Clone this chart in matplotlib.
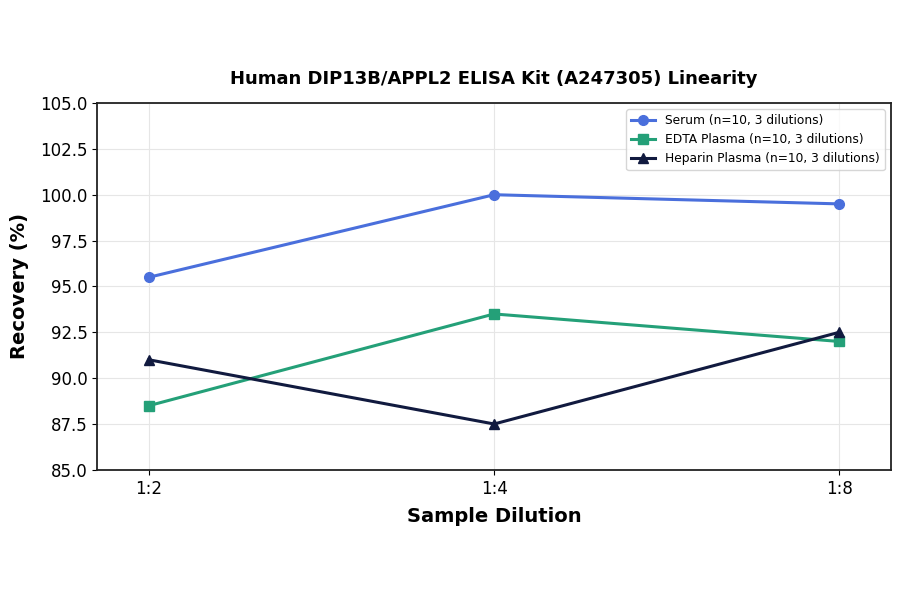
import matplotlib
matplotlib.use("Agg")
import matplotlib.pyplot as plt

dilutions = ["1:2", "1:4", "1:8"]
serum = [95.5, 100.0, 99.5]
edta = [88.5, 93.5, 92.0]
heparin = [91.0, 87.5, 92.5]
labels = ["Serum (n=10, 3 dilutions)", "EDTA Plasma (n=10, 3 dilutions)", "Heparin Plasma (n=10, 3 dilutions)"]
colors = ["#4a6fdc", "#24a078", "#111a3f"]
markers = ["o", "s", "^"]

fig = plt.figure(figsize=(9, 5.94), dpi=100)
ax = fig.add_axes([0.108, 0.209, 0.882, 0.6176])
x = range(len(dilutions))
for vals, lab, c, m in zip([serum, edta, heparin], labels, colors, markers):
    ax.plot(x, vals, color=c, marker=m, markersize=7, linewidth=2.2, label=lab)

ax.set_xlim(-0.15, 2.15)
ax.set_ylim(85, 105)
yt = [85, 87.5, 90, 92.5, 95, 97.5, 100, 102.5, 105]
ax.set_yticks(yt)
ax.set_yticklabels([f"{v:.1f}" for v in yt])
ax.set_xticks(list(x))
ax.set_xticklabels(dilutions)
ax.tick_params(labelsize=12)
ax.grid(True, color="#e6e6e6", linewidth=0.8)
ax.set_axisbelow(True)
for s in ax.spines.values():
    s.set_linewidth(1.3)
    s.set_color("#222222")
ax.set_xlabel("Sample Dilution", fontsize=14, fontweight="bold", labelpad=7)
ax.set_ylabel("Recovery (%)", fontsize=14, fontweight="bold", labelpad=8)
ax.set_title("Human DIP13B/APPL2 ELISA Kit (A247305) Linearity", fontsize=13, fontweight="bold", pad=14)
ax.legend(loc="upper right", fontsize=8.8)
fig.savefig("out.png", dpi=100)
